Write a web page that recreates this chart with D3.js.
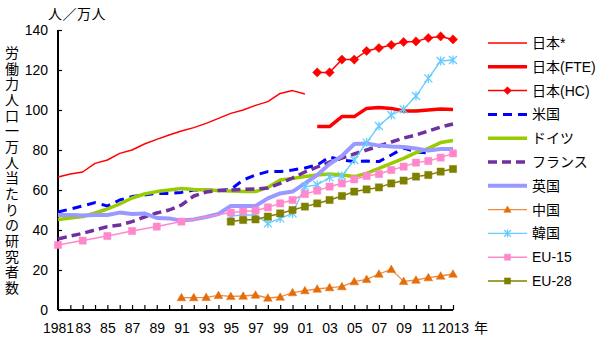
<!DOCTYPE html>
<html><head><meta charset="utf-8">
<script src="https://cdn.jsdelivr.net/npm/d3@7"></script>
<style>
body{margin:0;background:#fff;}
text{font-family:"Liberation Sans","Noto Sans CJK JP",sans-serif;}
</style></head>
<body><svg id="c" width="600" height="340"></svg>
<script>
const years = [1981,1982,1983,1984,1985,1986,1987,1988,1989,1990,1991,1992,1993,1994,1995,1996,1997,1998,1999,2000,2001,2002,2003,2004,2005,2006,2007,2008,2009,2010,2011,2012,2013];
const xTickLabels = ["1981","","83","","85","","87","","89","","91","","93","","95","","97","","99","","01","","03","","05","","07","","09","","11","","2013"];
const yTicks = [0,20,40,60,80,100,120,140];
const N = null;
const japanStar = [66.5,68,69,73.3,75,78.3,80,83,85.3,87.5,89.5,91.2,93.3,95.8,98.3,100,102.3,104.2,108.3,109.7,108, N,N,N,N,N,N,N,N,N,N,N,N];
const japanFTE = [N,N,N,N,N,N,N,N,N,N,N,N,N,N,N,N,N,N,N,N,N, 91.7,91.7,96.7,96.7,100.8,101.2,100.8,99.5,99.5,100,100.5,100.3];
const japanHC = [N,N,N,N,N,N,N,N,N,N,N,N,N,N,N,N,N,N,N,N,N, 118.8,118.8,125.2,125.2,129.5,131,132.5,134,134.3,136,136.8,135.3];
const usa = [49,50.5,52,53.7,52,55,56.7,57.5,58.3,58.3,58.8,60,60,59.7,60.3,65,67.5,69.2,69.2,70,71,72.5,76.5,75,74.2,74.5,74.2,77.5,81,79,78.5,N,N];
const germany = [45.3,46,46.7,48.5,50.5,53,56,58,59.2,60,60.8,60.3,60,59.7,59.5,59.3,59.2,61.3,65,65.8,66.7,67.5,68,67.5,66.7,68.3,70.8,73.3,75.8,78.7,80.8,83.7,84.7];
const france = [35.5,37,38.3,40,41.7,42.5,44.2,46.5,48.5,50,52.5,57,59,59.7,60,60.3,60.5,61,63.3,66,69,71.5,74,76,78,80,82,84,86,87.5,89.5,91.5,93];
const uk = [47.5,47.5,47.3,47.5,47.5,48.7,48,48.3,46,45.8,44.7,45.3,46.5,48,52,52,52,55.8,58.3,59.2,63.3,67.5,73,77,83,83.3,82.2,81.7,81.5,80.8,79.7,80.5,80.5];
const china = [N,N,N,N,N,N,N,N,N,N,6.2,6.2,6.3,7.3,6.8,7,7.5,6,6.5,8.7,9.7,10.5,11.2,11.7,14.2,15.3,18,20.3,14.3,15,16.2,17,18];
const korea = [N,N,N,N,N,N,N,N,N,N,N,N,N,N,47,47.5,47.5,43.3,45.8,48.3,61.7,62.5,66.3,67,75,83.7,92,97.5,100.3,107,115.8,124.5,125];
const eu15 = [32.5,N,34.7,N,37,N,39.5,N,41.7,N,44.2,N,N,N,48.7,49.2,49.7,51.3,53.3,55,58,59.7,61.7,63.3,65.3,67,68,70,71.7,73.7,74.5,76.2,78.3];
const eu28 = [N,N,N,N,N,N,N,N,N,N,N,N,N,N,44.2,45,45.3,46.7,48.3,50,51.7,53.3,55,57,59.2,60.3,61.3,63.3,64.7,66.7,67.5,69.2,70.5];
const seriesNames = ["日本*","日本(FTE)","日本(HC)","米国","ドイツ","フランス","英国","中国","韓国","EU-15","EU-28"];

const series = [
 {name:seriesNames[0], v:japanStar, color:"#ff0000", w:1.5},
 {name:seriesNames[1], v:japanFTE, color:"#ff0000", w:3.5},
 {name:seriesNames[2], v:japanHC, color:"#ff0000", w:1.5, marker:"diamond", mcolor:"#ff0000", r:4.6},
 {name:seriesNames[3], v:usa, color:"#0000ff", w:3, dash:"9,6"},
 {name:seriesNames[4], v:germany, color:"#99cc00", w:3.5},
 {name:seriesNames[5], v:france, color:"#7030a0", w:3.5, dash:"9,5"},
 {name:seriesNames[6], v:uk, color:"#9999ff", w:4},
 {name:seriesNames[7], v:china, color:"#f08a40", w:1.3, marker:"triangle", mcolor:"#e46c0a", r:4.3},
 {name:seriesNames[8], v:korea, color:"#66ccff", w:1.3, marker:"star", mcolor:"#66ccff", r:4},
 {name:seriesNames[9], v:eu15, color:"#ff88cc", w:1.5, marker:"square", mcolor:"#ff88cc", r:3.6},
 {name:seriesNames[10], v:eu28, color:"#808000", w:1.5, marker:"square", mcolor:"#808000", r:3.6}
];

const svg = d3.select("#c");
const x = d3.scaleLinear().domain([1981,2013]).range([58,453]);
const y = d3.scaleLinear().domain([0,140]).range([310,30]);

const xa = svg.append("g").attr("transform","translate(0,310)")
  .call(d3.axisBottom(x).tickValues(years).tickSize(-5).tickPadding(13)
    .tickFormat((d,i)=>xTickLabels[i]));
const ya = svg.append("g").attr("transform","translate(58,0)")
  .call(d3.axisLeft(y).tickValues(yTicks).tickSize(-4).tickPadding(10));
[xa,ya].forEach(a=>{
  a.select(".domain").attr("stroke","#000").attr("stroke-width",2);
  a.selectAll(".tick line").attr("stroke","#000").attr("stroke-width",1.2);
  a.selectAll(".tick text").attr("font-size",14).attr("fill","#000")
   .style("font-family","'Liberation Sans',sans-serif");
});
ya.select(".domain").attr("d","M0,30V310");
xa.select(".domain").attr("d","M58,0H453");

svg.append("text").attr("x",48).attr("y",19).attr("font-size",14).attr("letter-spacing",0.5).text("人／万人");
svg.append("text").attr("x",474).attr("y",333).attr("font-size",14).text("年");
const ytitle = "労働力人口一万人当たりの研究者数";
svg.append("g").selectAll("text").data(Array.from(ytitle)).join("text")
  .attr("x",12).attr("y",(d,i)=>58+i*15.67).attr("text-anchor","middle")
  .attr("font-size",14).text(d=>d);

function markerPath(type, r){
  if(type==="diamond") return `M0,${-r}L${r},0L0,${r}L${-r},0Z`;
  if(type==="triangle") return `M0,${-r}L${r},${r*0.75}L${-r},${r*0.75}Z`;
  if(type==="square") return `M${-r},${-r}H${r}V${r}H${-r}Z`;
  return `M${-r},${-r}L${r},${r}M${-r},${r}L${r},${-r}M0,${-r-0.5}V${r+0.5}`;
}

const line = d3.line().x(d=>x(d[0])).y(d=>y(d[1]));
const plot = svg.append("g");
series.forEach(s=>{
  const pts = years.map((yr,i)=>[yr,s.v[i]]).filter(p=>p[1]!==null);
  plot.append("path").attr("d",line(pts)).attr("fill","none")
    .attr("stroke",s.color).attr("stroke-width",s.w)
    .attr("stroke-dasharray",s.dash||null).attr("stroke-linejoin","round");
  if(s.marker){
    plot.append("g").selectAll("path").data(pts).join("path")
      .attr("transform",d=>`translate(${x(d[0])},${y(d[1])})`)
      .attr("d",markerPath(s.marker,s.r))
      .attr("fill",s.marker==="star"?"none":s.mcolor)
      .attr("stroke",s.mcolor).attr("stroke-width",s.marker==="star"?1.3:0.5);
  }
});

const lg = svg.append("g");
series.forEach((s,i)=>{
  const cy = 43 + i*23.8;
  lg.append("line").attr("x1",488).attr("x2",527).attr("y1",cy).attr("y2",cy)
    .attr("stroke",s.color).attr("stroke-width",s.w).attr("stroke-dasharray",s.dash||null);
  if(s.marker){
    lg.append("path").attr("transform",`translate(507.5,${cy})`)
      .attr("d",markerPath(s.marker,s.r*0.85))
      .attr("fill",s.marker==="star"?"none":s.mcolor)
      .attr("stroke",s.mcolor).attr("stroke-width",s.marker==="star"?1.3:0.5);
  }
  lg.append("text").attr("x",532).attr("y",cy+5).attr("font-size",14).text(s.name);
});
</script></body></html>
